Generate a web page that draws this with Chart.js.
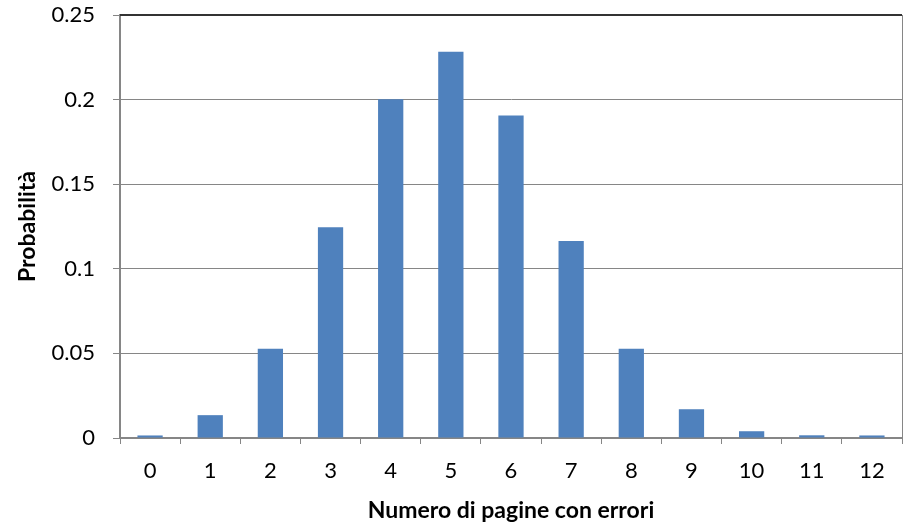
<!DOCTYPE html>
<html>
<head>
<meta charset="utf-8">
<script src="https://cdn.jsdelivr.net/npm/chart.js@4"></script>
<style>
  html, body { margin: 0; padding: 0; background: #fff; }
  #wrap { width: 904px; height: 525px; }
</style>
</head>
<body>
<div id="wrap"><canvas id="myChart" width="904" height="525"></canvas></div>
<script>
// ***** data *****
const pages = ['0','1','2','3','4','5','6','7','8','9','10','11','12'];
const probs = [0.0015, 0.0135, 0.0527, 0.1245, 0.2002, 0.2283, 0.1906, 0.1165, 0.0527, 0.0170, 0.0040, 0.0016, 0.0015];
const yTicks = [0, 0.05, 0.1, 0.15, 0.2, 0.25];

const ctx = document.getElementById('myChart');
const font = 'Lato, Calibri, "Open Sans", sans-serif';

// dark frame line along the top of the plot area
const topFrame = {
  id: 'topFrame',
  afterDraw(chart) {
    const a = chart.chartArea, c = chart.ctx;
    c.save();
    c.strokeStyle = '#333';
    c.lineWidth = 2;
    c.beginPath();
    c.moveTo(a.left, a.top);
    c.lineTo(a.right, a.top);
    c.stroke();
    c.restore();
  }
};

new Chart(ctx, {
  type: 'bar',
  data: {
    labels: pages,
    datasets: [{
      label: 'Probabilità',
      data: probs,
      backgroundColor: '#4f81bd',
      borderWidth: 0,
      barPercentage: 0.42,
      categoryPercentage: 1
    }]
  },
  plugins: [topFrame],
  options: {
    responsive: false,
    animation: false,
    layout: { padding: { top: 15, right: 1, left: 0, bottom: 0 } },
    plugins: { legend: { display: false }, tooltip: { enabled: false } },
    scales: {
      x: {
        afterFit: s => { s.height = 87; },
        grid: { offset: true, drawOnChartArea: false, tickLength: 6, color: '#868686', lineWidth: 1 },
        border: { color: '#868686', width: 2 },
        ticks: { color: '#000', font: { family: font, size: 22 }, padding: 14 },
        title: { display: true, text: 'Numero di pagine con errori', color: '#000',
                 font: { family: font, size: 23, weight: 'bold' }, padding: { top: 4, bottom: 1 } }
      },
      y: {
        min: 0, max: 0.25,
        afterFit: s => { s.width = 120; s.paddingTop = 0; s.paddingBottom = 0; },
        afterBuildTicks: s => { s.ticks = yTicks.map(v => ({ value: v })); },
        grid: { tickLength: 7, lineWidth: 1, color: '#868686' },
        border: { color: '#868686', width: 2 },
        ticks: { color: '#000', font: { family: font, size: 22 }, padding: 18,
                 callback: v => String(v) },
        title: { display: true, text: 'Probabilità', color: '#000',
                 font: { family: font, size: 23, weight: 'bold' }, padding: { top: 14, bottom: 0 } }
      },
      y2: {
        position: 'right', min: 0, max: 0.25,
        afterFit: s => { s.width = 1; s.paddingTop = 0; s.paddingBottom = 0; },
        grid: { display: false },
        ticks: { display: false },
        border: { color: '#868686', width: 1 }
      }
    }
  }
});
</script>
</body>
</html>
